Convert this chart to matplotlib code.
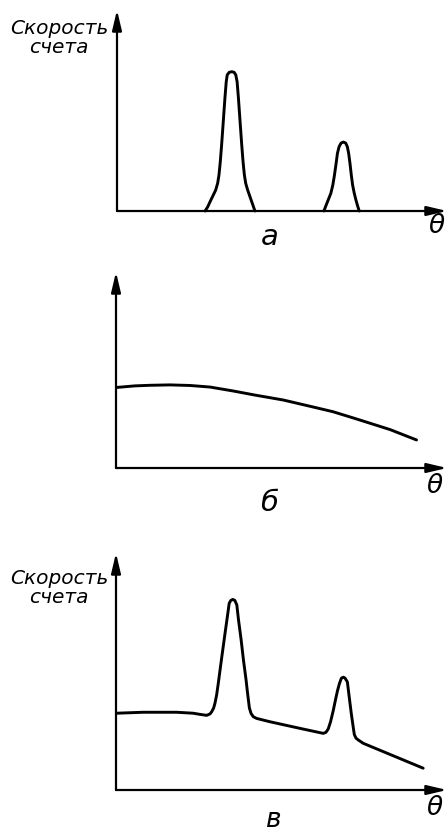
import matplotlib
matplotlib.use("Agg")
import matplotlib.pyplot as plt

# ---------------- data (θ in arbitrary units 0..100, count rate 0..100) -------------
# panel а : two diffraction peaks, zero background
peak1_theta = [26.7, 27.5, 28.2, 29.2, 29.9, 30.5, 30.9, 31.3, 31.7, 32.2, 32.7, 33.1, 33.4,
               34.0, 34.8, 35.5, 36.0, 36.4, 36.8, 37.3, 37.8, 38.2, 38.6, 39.0, 39.6, 40.3,
               41.0, 41.8]
peak1_count = [0.0, 2.1, 4.6, 8.0, 10.4, 13.8, 17.9, 24.5, 32.8, 44.4, 56.1, 64.3, 67.7,
               69.0, 69.3, 69.0, 67.7, 64.3, 56.1, 44.4, 32.8, 24.5, 17.9, 13.8, 10.4, 7.1,
               3.8, 0.0]
peak2_theta = [62.7, 63.3, 64.0, 64.8, 65.4, 65.9, 66.4, 66.8, 67.3, 67.9, 68.6, 69.3, 69.8,
               70.2, 70.6, 71.0, 71.4, 71.9, 72.4, 72.9, 73.4]
peak2_count = [0.0, 2.6, 5.5, 8.8, 12.9, 17.9, 23.7, 28.7, 32.0, 33.8, 34.3, 33.8, 32.0,
               28.7, 23.7, 17.9, 12.9, 8.8, 5.5, 2.6, 0.0]

# panel б : smooth background
bg_theta = [0.2, 5.7, 10.3, 16.3, 22.4, 28.4, 35.4, 42.0, 50.5, 58.6, 65.6, 72.7, 82.8, 90.8]
bg_count = [41.1, 41.9, 42.2, 42.4, 42.1, 41.3, 39.3, 37.2, 34.7, 31.5, 28.7, 25.0, 19.6, 14.3]

# panel в : peaks on top of background
sum_theta = [0.2, 8.2, 18.3, 23.3, 25.4, 27.4, 28.4, 28.9, 29.5, 29.9, 30.4, 30.9, 31.9, 32.9,
             33.6, 34.2, 34.7, 35.3, 35.9, 36.5, 37.0, 37.8, 38.5, 39.3, 39.7, 40.3,
             40.8, 41.5, 42.5, 46.5, 55.6, 62.6, 63.4, 64.1, 64.8, 65.6, 66.3, 66.9, 67.5,
             68.1, 68.7, 69.2, 69.9, 70.5, 71.1, 71.7, 72.0, 72.5, 73.2, 74.7, 82.8, 92.8]
sum_count = [32.4, 32.8, 32.8, 32.4, 31.9, 31.5, 32.1, 33.0, 34.6, 36.6, 40.1, 45.0, 55.5, 65.7,
             72.7, 78.8, 80.0, 80.4, 80.0, 78.1, 71.9, 63.4, 54.9, 46.4, 41.4, 34.6,
             32.3, 30.9, 30.2, 28.8, 26.0, 23.9, 24.3, 25.7, 28.7, 33.3, 38.0, 41.8, 44.9,
             47.2, 47.6, 47.2, 45.6, 38.8, 32.1, 26.2, 23.4, 21.9, 21.1, 19.7, 15.0, 9.2]

ylabel_text = "Скорость\nсчета"
xlabel_text = "θ"
panel_letters = ["а", "б", "в"]

# ---------------- figure ----------------------------------------------------------------
W, H = 448, 833
fig = plt.figure(figsize=(W / 100, H / 100), dpi=100)
fig.patch.set_facecolor("white")

FONT = dict(family="DejaVu Sans", style="italic", color="black")
LW_CURVE = 2.1
LW_AXIS = 1.6


def add_panel(x0, base, top, tip):
    ax = fig.add_axes([x0 / W, (H - base) / H, (tip - x0) / W, (base - top) / H])
    ax.set_xlim(0, 100)
    ax.set_ylim(0, 100)
    ax.axis("off")
    arrow = dict(arrowstyle="-|>,head_length=0.55,head_width=0.13", mutation_scale=22,
                 lw=LW_AXIS, color="black", shrinkA=0, shrinkB=0)
    ax.annotate("", xy=(1, 0), xytext=(0, 0), xycoords="axes fraction",
                arrowprops=arrow, annotation_clip=False)
    ax.annotate("", xy=(0, 1), xytext=(0, 0), xycoords="axes fraction",
                arrowprops=arrow, annotation_clip=False)
    return ax


def ftext(x, y, s, **kw):
    fig.text(x / W, 1 - y / H, s, **kw)


def curve(ax, xs, ys):
    ax.plot(xs, ys, color="black", lw=LW_CURVE, solid_joinstyle="round",
            solid_capstyle="round", clip_on=False)


# panel а
ax_a = add_panel(117, 211, 10, 447)
curve(ax_a, peak1_theta, peak1_count)
curve(ax_a, peak2_theta, peak2_count)
ftext(59, 38, ylabel_text, ha="center", va="center", fontsize=14.5,
      linespacing=1.0, **FONT)
ftext(437, 226, xlabel_text, ha="center", va="center", fontsize=19, **FONT)
ftext(270, 237, panel_letters[0], ha="center", va="center", fontsize=21, **FONT)

# panel б
ax_b = add_panel(116, 468, 272, 447)
curve(ax_b, bg_theta, bg_count)
ftext(435, 486, xlabel_text, ha="center", va="center", fontsize=19, **FONT)
ftext(269, 503, panel_letters[1], ha="center", va="center", fontsize=21, **FONT)

# panel в
ax_c = add_panel(116, 790, 553, 447)
curve(ax_c, sum_theta, sum_count)
ftext(59, 588, ylabel_text, ha="center", va="center", fontsize=14.5,
      linespacing=1.0, **FONT)
ftext(435, 808, xlabel_text, ha="center", va="center", fontsize=19, **FONT)
ftext(274, 820, panel_letters[2], ha="center", va="center", fontsize=19, **FONT)

fig.savefig("out.png", dpi=100, facecolor="white")
